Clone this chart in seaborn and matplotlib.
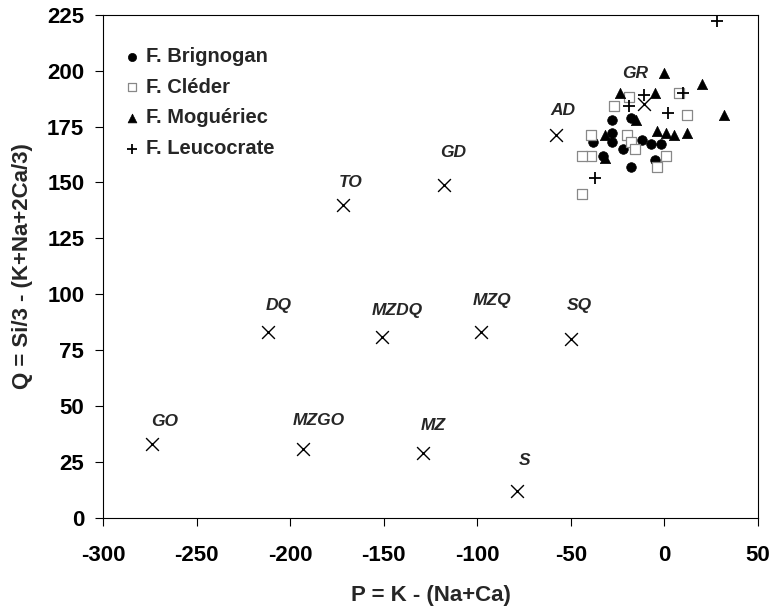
import numpy as np
import pandas as pd
import seaborn as sns
import matplotlib.pyplot as plt

# reference points (Debon & Le Fort)
ref_names = ["GO", "MZGO", "MZ", "S", "DQ", "MZDQ", "MZQ", "SQ", "TO", "GD", "AD", "GR"]
ref_p = [-274, -193, -129, -79, -212, -151, -98, -50, -172, -118, -58, -11]
ref_q = [33, 31, 29, 12, 83, 81, 83, 80, 140, 149, 171, 185]

# F. Brignogan
brig_p = [-28, -18, -28, -28, -22, -12, -7, -2, -33, -18, -5, -38]
brig_q = [178, 179, 172, 168, 165, 169, 167, 167, 162, 157, 160, 168]

# F. Cléder
cled_p = [-19, -27, -39, -39, -44, -20, -18, -16, 1, -4, -44, 12, 8]
cled_q = [188, 184, 171, 162, 162, 171, 168, 165, 162, 157, 145, 180, 190]

# F. Moguériec
mog_p = [0, -24, -5, 20, 32, -32, -4, 1, 5, 12, -32, -15]
mog_q = [199, 190, 190, 194, 180, 171, 173, 172, 171, 172, 161, 178]

# F. Leucocrate
leu_p = [28, 10, -11, -19, 2, -37]
leu_q = [222, 190, 189, 184, 181, 152]

# label offsets from the marker, in points
lab_dx = [9, 11, 7, 6, 8, 11, 8, 6, 6, 7, 5, -6]
lab_dy = [16, 20, 20, 22, 19, 19, 23, 24, 16, 23, 18, 22]

sns.set_theme(style="white")
plt.rcParams['font.family'] = ['Liberation Sans', 'DejaVu Sans']
plt.rcParams['axes.unicode_minus'] = False

fig, ax = plt.subplots(figsize=(7.81, 6.15), dpi=100)
fig.subplots_adjust(left=0.132, right=0.9706, top=0.976, bottom=0.158)

sns.scatterplot(x=brig_p, y=brig_q, marker="o", s=48, color="black",
                edgecolor="black", linewidth=0.5, ax=ax, label="F. Brignogan")
sns.scatterplot(x=cled_p, y=cled_q, marker="s", s=42, facecolor="white",
                edgecolor="#888888", linewidth=0.9, ax=ax, label="F. Cléder")
sns.scatterplot(x=mog_p, y=mog_q, marker="^", s=55, color="black",
                edgecolor="black", linewidth=0.5, ax=ax, label="F. Moguériec")
sns.scatterplot(x=leu_p, y=leu_q, marker="+", s=70, color="black",
                linewidth=1.3, ax=ax, label="F. Leucocrate")
sns.scatterplot(x=ref_p, y=ref_q, marker="x", s=85, color="black",
                linewidth=1.0, ax=ax, legend=False)

for name, p, q, dx, dy in zip(ref_names, ref_p, ref_q, lab_dx, lab_dy):
    ax.annotate(name, (p, q), xytext=(dx, dy), textcoords="offset points",
                ha="center", va="center", fontsize=12.5, fontweight="bold",
                fontstyle="italic")

ax.set_xlim(-300, 50)
ax.set_ylim(0, 225)
ax.set_xticks(np.arange(-300, 51, 50))
ax.set_yticks(np.arange(0, 226, 25))
ax.tick_params(direction="out", length=5.5, width=0.8, colors="black",
               labelsize=16, bottom=True, left=True)
ax.tick_params(axis="x", pad=14)
ax.tick_params(axis="y", pad=8)
for lab in ax.get_xticklabels() + ax.get_yticklabels():
    lab.set_fontweight("bold")
for sp in ax.spines.values():
    sp.set_color("black")
    sp.set_linewidth(0.8)

ax.set_xlabel("P = K - (Na+Ca)", fontsize=16, fontweight="bold", labelpad=14)
ax.set_ylabel("Q = Si/3 - (K+Na+2Ca/3)", fontsize=16, fontweight="bold", labelpad=10)

leg = ax.legend(loc="upper left", frameon=False, fontsize=14.5, handletextpad=0.2,
                handlelength=1.0, borderaxespad=0, labelspacing=0.58,
                markerscale=0.85, bbox_to_anchor=(0.017, 0.952))
for t in leg.get_texts():
    t.set_fontweight("bold")

plt.savefig("out.png", dpi=100)
